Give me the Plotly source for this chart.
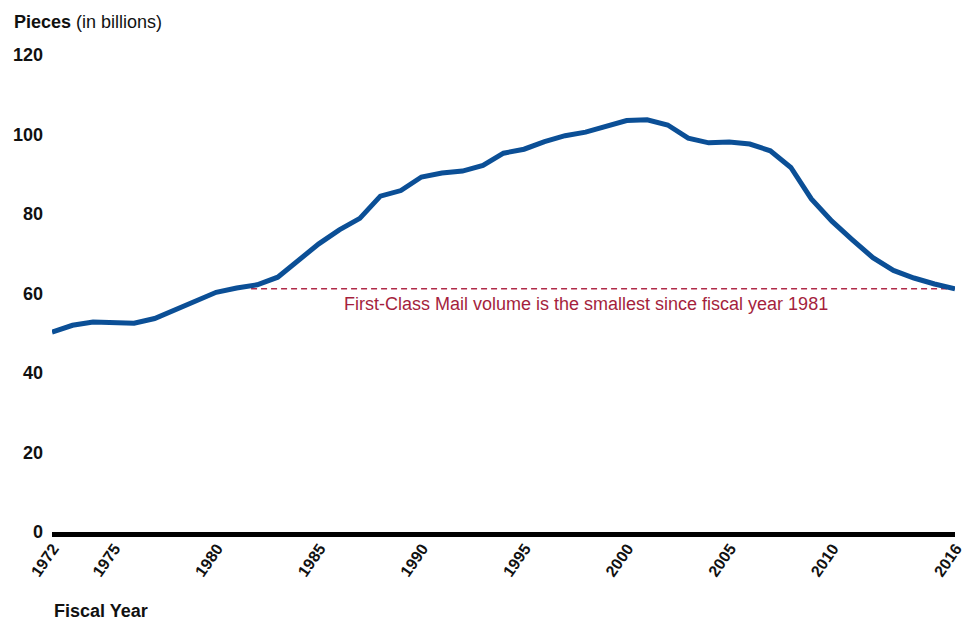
import plotly.graph_objects as go

years = list(range(1972, 2017))
volume = [50.3, 52.0, 52.8, 52.5, 52.5, 53.7, 56.0, 58.0, 60.3, 61.4,
          62.2, 64.1, 68.5, 72.5, 76.0, 78.9, 84.5, 85.9, 89.3, 90.3,
          90.8, 92.2, 95.3, 96.3, 98.2, 99.7, 100.6, 102.0, 103.5, 103.7,
          102.4, 99.1, 97.9, 98.1, 97.6, 95.9, 91.7, 83.8, 78.2, 73.5,
          69.0, 65.8, 63.9, 62.4, 61.2]
x_tickvals = [1972, 1975, 1980, 1985, 1990, 1995, 2000, 2005, 2010, 2016]
y_tickvals = [0, 20, 40, 60, 80, 100, 120]
ref_start_year = 1981.7
ref_value = volume[-1]
note_text = "First-Class Mail volume is the smallest since fiscal year 1981"

W, H = 964, 620
ML, MR, MT, MB = 52, 9, 55, 88
PW, PH = W - ML - MR, H - MT - MB

def px_x(p):
    return (p - ML) / PW

def px_y(p):
    return (H - MB - p) / PH

FONT = "Liberation Sans, Arial, sans-serif"
BLUE = "#0b4f96"
RED = "#b02a48"

fig = go.Figure()
fig.add_trace(go.Scatter(
    x=years, y=volume, mode="lines",
    line=dict(color=BLUE, width=5),
    cliponaxis=False, hoverinfo="x+y", showlegend=False,
))

fig.add_shape(type="line", xref="x", yref="y",
              x0=ref_start_year, x1=years[-1], y0=ref_value, y1=ref_value,
              line=dict(color=RED, width=1.3, dash="6px,4px"), layer="below")

fig.add_annotation(x=1998, y=ref_value, xref="x", yref="y",
                   text=note_text, showarrow=False, yanchor="top", yshift=-3,
                   font=dict(family=FONT, size=18, color="#a51f3d"))

fig.add_annotation(x=px_x(12), y=px_y(22), xref="paper", yref="paper",
                   text="<b>Pieces</b> (in billions)", showarrow=False,
                   xanchor="left", yanchor="middle",
                   font=dict(family=FONT, size=18, color="#111111"))
fig.add_annotation(x=px_x(52), y=px_y(611), xref="paper", yref="paper",
                   text="<b>Fiscal Year</b>", showarrow=False,
                   xanchor="left", yanchor="middle",
                   font=dict(family=FONT, size=18, color="#111111"))

fig.update_layout(
    width=W, height=H,
    margin=dict(l=ML, r=MR, t=MT, b=MB, pad=0, autoexpand=False),
    plot_bgcolor="white", paper_bgcolor="white",
    font=dict(family=FONT, color="#111111"),
    xaxis=dict(range=[years[0], years[-1]], tickvals=x_tickvals,
               ticktext=[str(v) for v in x_tickvals],
               tickangle=-55, showgrid=False, zeroline=False,
               showline=True, linecolor="black", linewidth=5,
               ticks="", ticklabelshift=1, ticklabelstandoff=-4,
               ticklabeloverflow="allow", automargin=False,
               tickfont=dict(family=FONT, size=16, color="#111111", weight="bold")),
    yaxis=dict(range=[0, 120], tickvals=y_tickvals, showgrid=False,
               zeroline=False, showline=False, ticks="",
               ticklabelstandoff=8, automargin=False,
               tickfont=dict(family=FONT, size=18, color="#111111", weight="bold")),
)

fig.write_html("out.html", config={"displayModeBar": False},
               post_script="document.body.style.margin='0';document.body.style.overflow='hidden';")
